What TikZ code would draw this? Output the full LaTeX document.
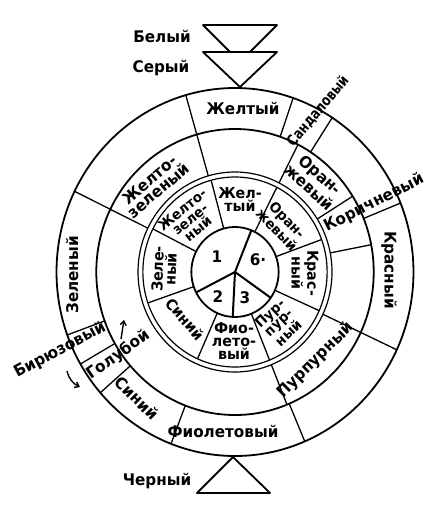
\documentclass[tikz,border=0pt]{standalone}
\usepackage{fontspec}
\setmainfont[FakeStretch=0.95]{DejaVu Sans}
\newfontfamily\condfam[FakeStretch=0.8]{DejaVu Sans}
\usetikzlibrary{arrows.meta}
\newcommand{\lblfont}{\fontsize{16}{14}\selectfont\bfseries}
\newcommand{\midfont}{\fontsize{15}{13}\selectfont\bfseries}
\newcommand{\tightfont}{\fontsize{14}{12.5}\selectfont\bfseries}
\newcommand{\sandfont}{\condfam\fontsize{15}{15}\selectfont\bfseries}
\begin{document}
\begin{tikzpicture}[x=1pt,y=-1pt,line join=round,
  ring/.style={line width=1.8pt},
  thinring/.style={line width=1.2pt},
  spoke/.style={line width=1.3pt},
  hub/.style={line width=2pt},
  tri/.style={line width=1.8pt, fill=white},
  lbl/.style={font=\lblfont, inner sep=0pt, align=center},
  mid/.style={font=\midfont, inner sep=0pt, align=center},
  arr/.style={line width=1.4pt, -{Straight Barb[length=4pt,width=6pt]}}]
\useasboundingbox (0,0) rectangle (434,511);
% triangles
\draw[tri] (203,25) -- (277,25) -- (240,62) -- cycle;
\draw[tri] (203,52) -- (277,52) -- (240,87) -- cycle;
\draw[tri] (233,457) -- (270,493) -- (197,493) -- cycle;
\node[lbl] (white) at (162,36) {Белый};
\node[lbl] (grey) at (161,68) {Серый};
\node[lbl] (black) at (157,481) {Черный};
% wheel
\begin{scope}[shift={(235,272)}, xscale=0.97, yscale=-1]
 \draw[ring] (0,0) circle[radius=184];
 \draw[ring] (0,0) circle[radius=143];
 \draw[thinring] (0,0) circle[radius=100];
 \draw[thinring] (0,0) circle[radius=95];
 \draw[ring] (0,0) circle[radius=45];
 \foreach \a in {68,207,267,325} \draw[hub] (0,0) -- (\a:45);
 \foreach \a in {105,63,20,-24,-68,246,199,153} \draw[spoke] (\a:45) -- (\a:95);
 \foreach \a in {106,63,32,11,-25,-68,154} \draw[spoke] (\a:100) -- (\a:143);
 \foreach \a in {106,71,57,22,-25,-67,249,221,210,200,154} \draw[spoke] (\a:143) -- (\a:184);
\end{scope}
% outer labels
\node[lbl] (yel) at (243,108) {Желтый};
\node[lbl, font=\sandfont, rotate=50] (sand) at (318,111) {Сандаловый};
\node[lbl, rotate=27] (brown) at (374,203) {Коричневый};
\node[lbl, rotate=-90] (red) at (389,270) {Красный};
\node[lbl, rotate=45] (purp) at (316,360) {Пурпурный};
\node[lbl] (viol) at (223,431) {Фиолетовый};
\node[lbl, rotate=-45] (blue) at (137,398) {Синий};
\node[lbl, rotate=35] (lblue) at (118,355) {Голубой};
\node[lbl, rotate=28] (turq) at (60,350) {Бирюзовый};
\node[lbl, rotate=90] (green) at (72,275) {Зеленый};
\node[lbl, rotate=40] (ygreen) at (154,185) {Желто-\\зеленый};
\node[lbl, rotate=-42] (orange) at (315,181) {Оран-\\жевый};
% middle ring labels
\node[mid] (m1) at (240,200) {Жел-\\тый};
\node[mid, font=\tightfont, rotate=-46] (m2) at (282,225) {Оран-\\жевый};
\node[mid, rotate=-90] (m3) at (305,273) {Крас-\\ный};
\node[mid, font=\tightfont, rotate=43] (m4) at (279,323) {Пур-\\пур-\\ный};
\node[mid] (m5) at (234,341) {Фио-\\лето-\\вый};
\node[mid, rotate=-48] (m6) at (185,319) {Синий};
\node[mid, rotate=88] (m7) at (164,269) {Зеле-\\ный};
\node[mid, font=\tightfont, rotate=39] (m8) at (190,219) {Желто-\\зеле-\\ный};
% numbers
\node[lbl] (n1) at (217,257) {1};
\node[lbl] (n2) at (218,297) {2};
\node[lbl] (n3) at (245,298) {3};
\node[lbl] (n6) at (258,260) {6·};
% arrows
\coordinate (a1s) at (121,339);
\coordinate (a1e) at (124,320);
\draw[arr] (a1s) -- (a1e);
\coordinate (a2s) at (67,371);
\coordinate (a2e) at (80,387);
\draw[arr] (a2s) to[bend right=25] (a2e);
\end{tikzpicture}
\end{document}
